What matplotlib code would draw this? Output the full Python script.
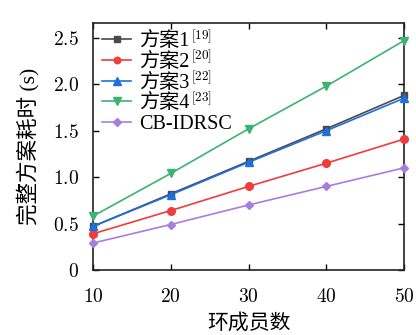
import numpy as np
import matplotlib
matplotlib.use('Agg')
import matplotlib.pyplot as plt

plt.rcParams['font.family'] = ['Liberation Serif', 'Noto Sans CJK SC']
plt.rcParams['mathtext.fontset'] = 'cm'

members = [10, 20, 30, 40, 50]
scheme1 = [0.47, 0.82, 1.17, 1.52, 1.88]
scheme2 = [0.39, 0.64, 0.90, 1.15, 1.41]
scheme3 = [0.47, 0.81, 1.16, 1.50, 1.85]
scheme4 = [0.58, 1.04, 1.52, 1.98, 2.47]
cbidrsc = [0.29, 0.49, 0.70, 0.90, 1.10]

labels = ['方案1', '方案2', '方案3', '方案4', 'CB-IDRSC']
refs = ['[19]', '[20]', '[22]', '[23]', '']
series = [scheme1, scheme2, scheme3, scheme4, cbidrsc]
colors = ['#4a4a4a', '#f03c3c', '#1f6fe0', '#3cb371', '#a67ee0']
markers = ['s', 'o', '^', 'v', 'D']
msizes = [5, 5.5, 6, 6, 4.5]

fig = plt.figure(figsize=(4.16, 3.35), dpi=100)
ax = fig.add_axes([93/416, 1-270/335, (404-93)/416, (270-23)/335])
for y, lab, c, m, ms in zip(series, labels, colors, markers, msizes):
    ax.plot(members, y, color=c, marker=m, markersize=ms, lw=1.2, label=lab, clip_on=False, zorder=3)

ax.set_xlim(10, 50)
ax.set_ylim(0, 2.66)
ax.set_xticks([10, 20, 30, 40, 50])
ax.set_xticklabels(['$10$', '$20$', '$30$', '$40$', '$50$'])
ax.set_yticks([0, 0.5, 1.0, 1.5, 2.0, 2.5])
ax.set_yticklabels(['$0$', '$0.5$', '$1.0$', '$1.5$', '$2.0$', '$2.5$'])
ax.tick_params(direction='in', top=True, right=True, labelsize=14, length=4, width=1, pad=10)
ax.tick_params(axis='x', pad=13)
for s in ax.spines.values():
    s.set_linewidth(1.2)
    s.set_color('#222222')
ax.set_xlabel('环成员数', fontsize=15, labelpad=6)
ax.set_ylabel('完整方案耗时 (s)', fontsize=15.5, labelpad=10)
leg = ax.legend(loc='upper left', frameon=False, fontsize=14.5, handlelength=1.45,
                handletextpad=0.4, labelspacing=0.08, borderaxespad=0.15, borderpad=0.3,
                markerscale=0.85)

# superscript citation marks after the CJK labels
fig.canvas.draw()
r = fig.canvas.get_renderer()
inv = fig.transFigure.inverted()
for t, ref in zip(leg.get_texts(), refs):
    if not ref:
        continue
    bb = t.get_window_extent(r)
    x, y = inv.transform((bb.x1 + 1, bb.y1 + 5))
    fig.text(x, y, '$\\mathrm{' + ref + '}$', fontsize=9.5, va='top', ha='left')
fig.savefig('out.png', dpi=100)
